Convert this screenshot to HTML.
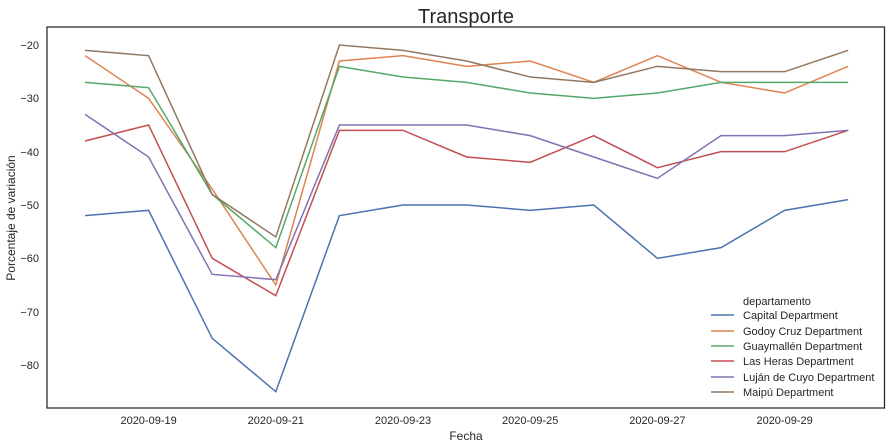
<!DOCTYPE html>
<html><head><meta charset="utf-8"><style>
html,body{margin:0;padding:0;background:#fff;}
svg{display:block;font-family:"Liberation Sans",sans-serif;}
</style></head><body>
<svg width="891" height="446" viewBox="0 0 891 446">
<rect width="891" height="446" fill="#fff"/>
<text x="466" y="23" font-size="20" text-anchor="middle" fill="#262626">Transporte</text>
<g font-size="11" fill="#262626" text-anchor="end">
<text x="39" y="49">−20</text>
<text x="39" y="102">−30</text>
<text x="39" y="156">−40</text>
<text x="39" y="209">−50</text>
<text x="39" y="262">−60</text>
<text x="39" y="316">−70</text>
<text x="39" y="369">−80</text>
</g>
<g font-size="11" fill="#262626" text-anchor="middle">
<text x="148.6" y="424">2020-09-19</text>
<text x="275.8" y="424">2020-09-21</text>
<text x="403" y="424">2020-09-23</text>
<text x="530.2" y="424">2020-09-25</text>
<text x="657.4" y="424">2020-09-27</text>
<text x="784.6" y="424">2020-09-29</text>
</g>
<text x="466" y="440" font-size="12" text-anchor="middle" fill="#262626">Fecha</text>
<text transform="translate(15,218) rotate(-90)" font-size="12" text-anchor="middle" fill="#262626">Porcentaje de variación</text>
<g fill="none" stroke-width="1.5" transform="matrix(63.6 0 0 -5.3333 85 -61.667)">
<polyline vector-effect="non-scaling-stroke" stroke="#4c72b0" points="0,-52 1,-51 2,-75 3,-85 4,-52 5,-50 6,-50 7,-51 8,-50 9,-60 10,-58 11,-51 12,-49"/>
<polyline vector-effect="non-scaling-stroke" stroke="#dd8452" points="0,-22 1,-30 2,-47 3,-65 4,-23 5,-22 6,-24 7,-23 8,-27 9,-22 10,-27 11,-29 12,-24"/>
<polyline vector-effect="non-scaling-stroke" stroke="#55a868" points="0,-27 1,-28 2,-48 3,-58 4,-24 5,-26 6,-27 7,-29 8,-30 9,-29 10,-27 11,-27 12,-27"/>
<polyline vector-effect="non-scaling-stroke" stroke="#c44e52" points="0,-38 1,-35 2,-60 3,-67 4,-36 5,-36 6,-41 7,-42 8,-37 9,-43 10,-40 11,-40 12,-36"/>
<polyline vector-effect="non-scaling-stroke" stroke="#8172b3" points="0,-33 1,-41 2,-63 3,-64 4,-35 5,-35 6,-35 7,-37 8,-41 9,-45 10,-37 11,-37 12,-36"/>
<polyline vector-effect="non-scaling-stroke" stroke="#937860" points="0,-21 1,-22 2,-48 3,-56 4,-20 5,-21 6,-23 7,-26 8,-27 9,-24 10,-25 11,-25 12,-21"/>
</g>
<rect x="47" y="27" width="837.5" height="381" fill="none" stroke="#262626" stroke-width="1.25"/>
<g font-size="11" fill="#262626">
<text x="743" y="305">departamento</text>
<text x="743" y="319">Capital Department</text>
<text x="743" y="335">Godoy Cruz Department</text>
<text x="743" y="350">Guaymallén Department</text>
<text x="743" y="365">Las Heras Department</text>
<text x="743" y="381">Luján de Cuyo Department</text>
<text x="743" y="396">Maipú Department</text>
</g>
<g stroke-width="1.5">
<line x1="711" x2="734" y1="315" y2="315" stroke="#4c72b0"/>
<line x1="711" x2="734" y1="331" y2="331" stroke="#dd8452"/>
<line x1="711" x2="734" y1="346" y2="346" stroke="#55a868"/>
<line x1="711" x2="734" y1="361" y2="361" stroke="#c44e52"/>
<line x1="711" x2="734" y1="377" y2="377" stroke="#8172b3"/>
<line x1="711" x2="734" y1="392" y2="392" stroke="#937860"/>
</g>
</svg>
</body></html>
